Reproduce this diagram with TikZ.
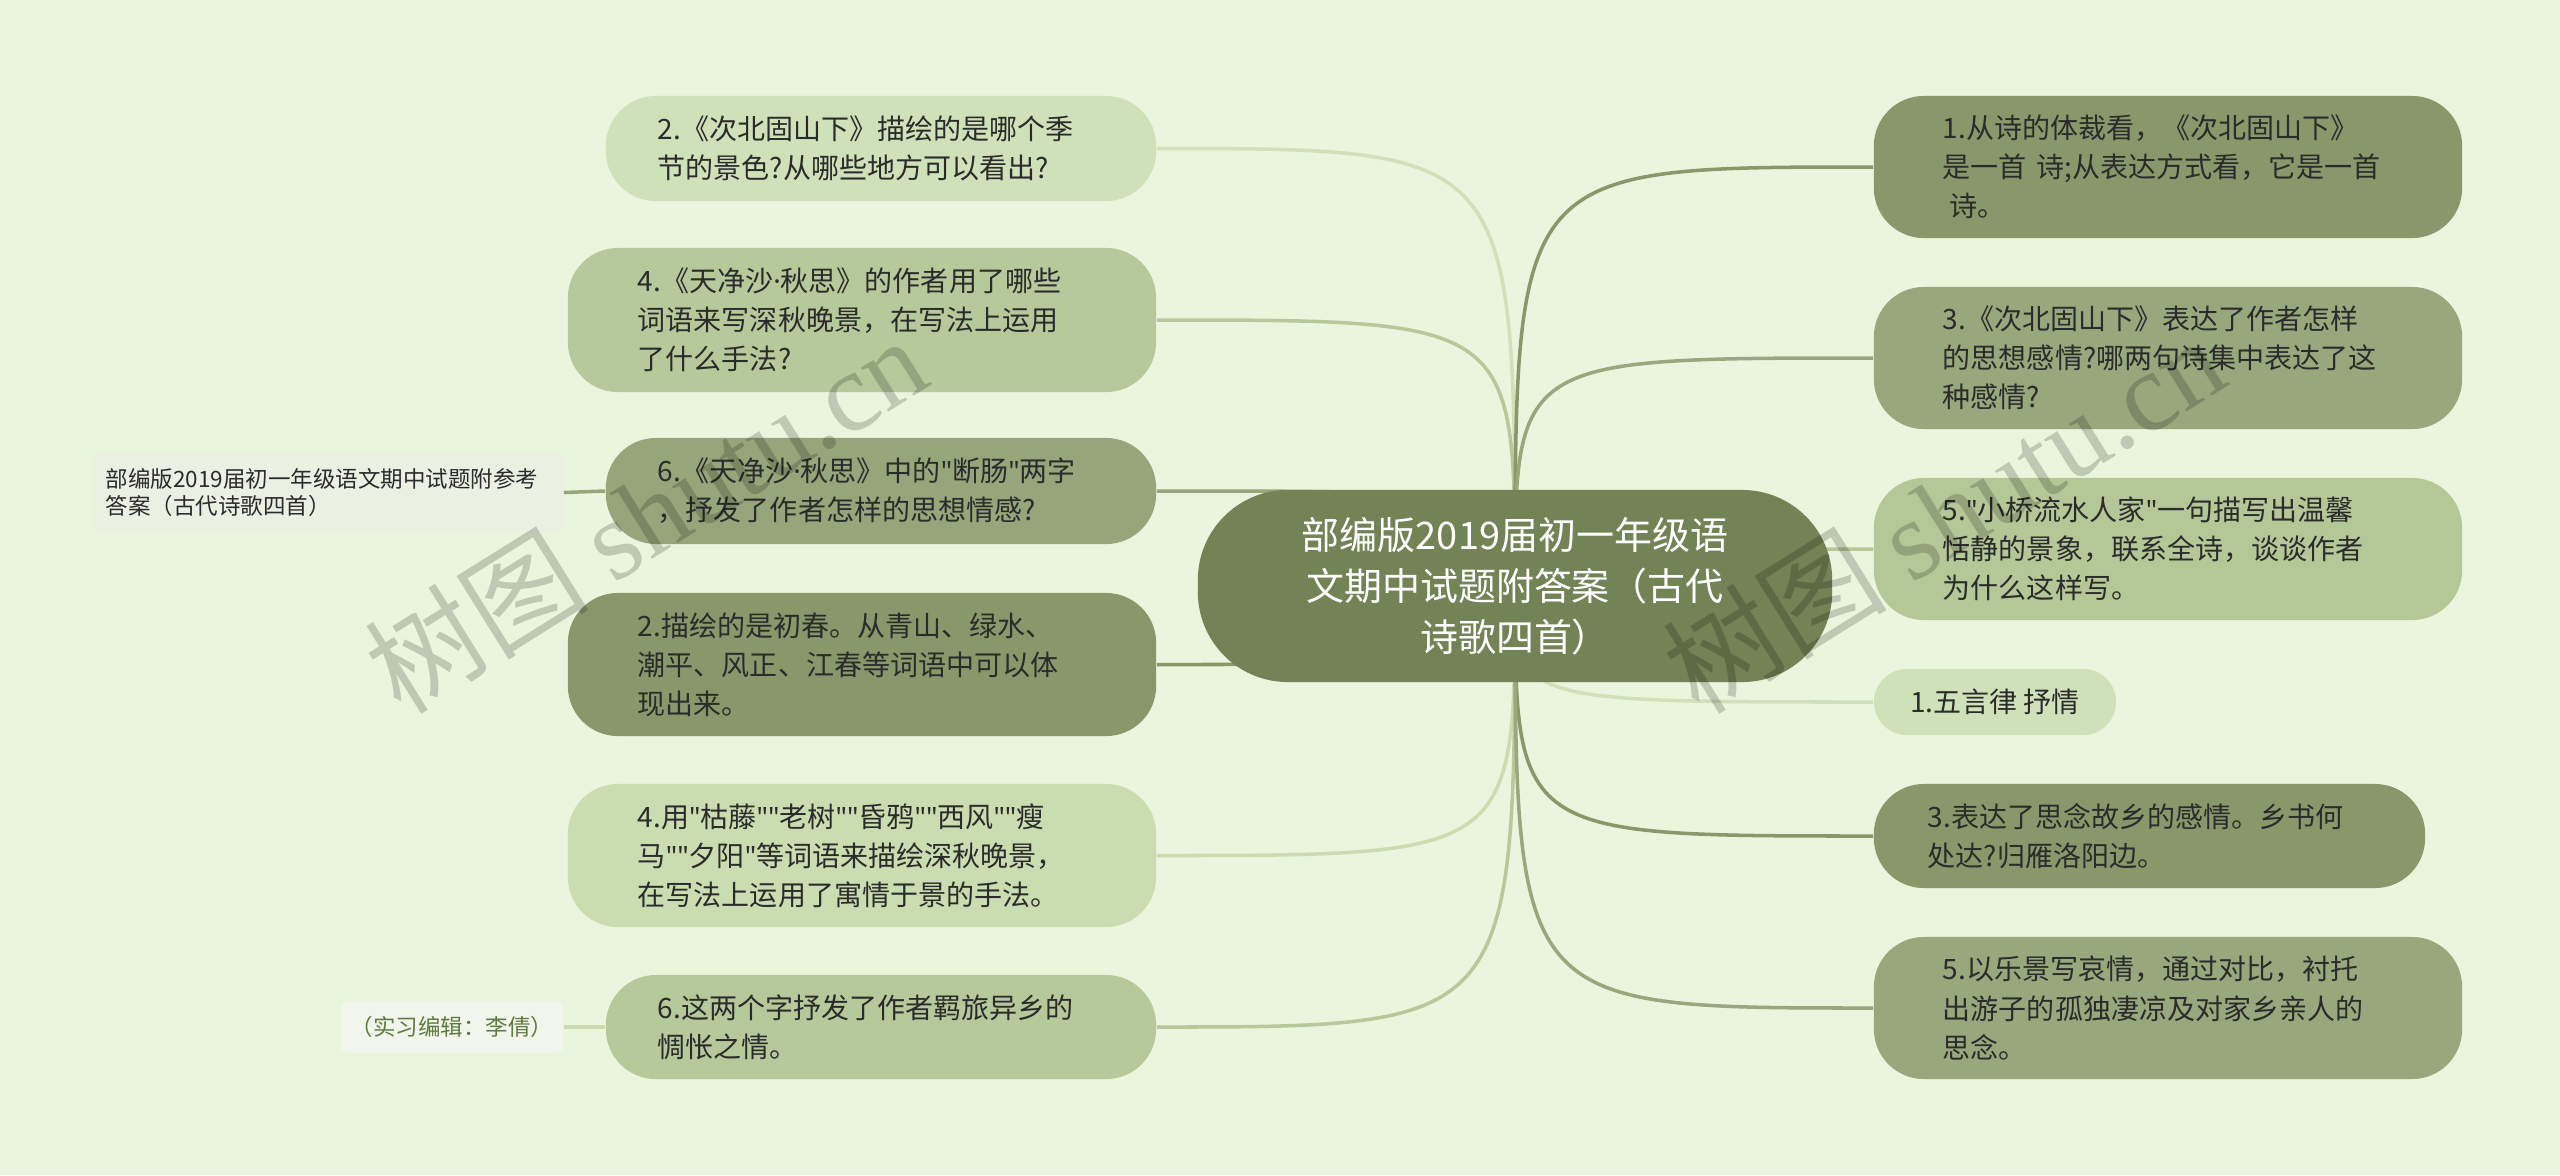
\documentclass[tikz,border=0pt]{standalone}
\usepackage{fontspec}
\setmainfont{Noto Sans CJK SC}[Ligatures=TeXOff]
\newfontfamily\latinf{Noto Sans}[Ligatures=TeXOff]
\newfontfamily\wmserif{Liberation Serif}
\newcommand{\mdot}{{\latinf ·}}
\newcommand{\q}{{\latinf\char"22}}
\usetikzlibrary{backgrounds}
\definecolor{bgc}{HTML}{E9F5DC}
\definecolor{rootc}{HTML}{728355}
\definecolor{cA}{HTML}{CFE1B9}
\definecolor{cB}{HTML}{B5C99A}
\definecolor{cC}{HTML}{94A67A}
\definecolor{cD}{HTML}{88986B}
\definecolor{cE}{HTML}{CADDB1}
\definecolor{cF}{HTML}{97A87D}
\definecolor{cG}{HTML}{B3C797}
\definecolor{txt}{HTML}{2B2B2B}
\definecolor{flc}{HTML}{EBF0E3}
\definecolor{flc2}{HTML}{F1F5EC}
\definecolor{edtxt}{HTML}{5E7B3E}
\tikzset{
  box/.style={rounded corners=0.5cm, inner sep=0pt, align=left, text=txt,
    font=\fontsize{7.97pt}{11.1pt}\selectfont},
  rootbox/.style={rounded corners=0.9cm, inner sep=0pt, align=center, text=white,
    fill=rootc, font=\fontsize{10.8pt}{14.5pt}\selectfont},
  side/.style={rounded corners=0.06cm, inner sep=0pt, align=left, text=txt,
    font=\fontsize{6.4pt}{7.9pt}\selectfont},
  link/.style={line width=1pt},
  wm/.style={text=black, opacity=0.18, rotate=32, font=\fontsize{32pt}{34pt}\selectfont}
}
\begin{document}
\begin{tikzpicture}[x=0.01cm, y=-0.01cm]
\useasboundingbox (0,0) rectangle (2560,1175);

% root
\node[rootbox, minimum width=6.34cm, minimum height=1.92cm] (root) at (1515,586)
  {部编版2019届初一年级语\\文期中试题附答案（古代\\诗歌四首）};

% left column
\node[box, fill=cA, minimum width=5.50cm, minimum height=1.05cm, text width=4.46cm] (L1) at (881,148.5)
  {2.《次北固山下》描绘的是哪个季\\节的景色?从哪些地方可以看出?};
\node[box, fill=cB, minimum width=5.88cm, minimum height=1.44cm, text width=4.48cm] (L2) at (862,320)
  {4.《天净沙\mdot 秋思》的作者用了哪些\\词语来写深秋晚景，在写法上运用\\了什么手法?};
\node[box, fill=cC, minimum width=5.50cm, minimum height=1.06cm, text width=4.46cm] (L3) at (881,491)
  {6.《天净沙\mdot 秋思》中的\q 断肠\q 两字\\，抒发了作者怎样的思想情感?};
\node[box, fill=cD, minimum width=5.88cm, minimum height=1.43cm, text width=4.48cm] (L4) at (862,664.5)
  {2.描绘的是初春。从青山、绿水、\\潮平、风正、江春等词语中可以体\\现出来。};
\node[box, fill=cE, minimum width=5.88cm, minimum height=1.43cm, text width=4.48cm] (L5) at (862,855.5)
  {4.用\q 枯藤\q\q 老树\q\q 昏鸦\q\q 西风\q\q 瘦\\马\q\q 夕阳\q 等词语来描绘深秋晚景，\\在写法上运用了寓情于景的手法。};
\node[box, fill=cB, minimum width=5.50cm, minimum height=1.04cm, text width=4.46cm] (L6) at (881,1027)
  {6.这两个字抒发了作者羁旅异乡的\\惆怅之情。};

% far left
\node[side, fill=flc, minimum width=4.70cm, minimum height=0.77cm, text width=4.44cm] (FL1) at (328,492.5)
  {部编版2019届初一年级语文期中试题附参考\\答案（古代诗歌四首）};
\node[side, fill=flc2, text=edtxt, align=center, minimum width=2.22cm, minimum height=0.52cm] (FL2) at (452,1027)
  {（实习编辑：李倩）};

% right column
\node[box, fill=cD, minimum width=5.88cm, minimum height=1.42cm, text width=4.50cm] (R1) at (2168,167)
  {1.从诗的体裁看，《次北固山下》\\是一首~诗;从表达方式看，它是一首\\\hspace*{0.25em}诗。};
\node[box, fill=cF, minimum width=5.88cm, minimum height=1.42cm, text width=4.50cm] (R2) at (2168,358)
  {3.《次北固山下》表达了作者怎样\\的思想感情?哪两句诗集中表达了这\\种感情?};
\node[box, fill=cG, minimum width=5.88cm, minimum height=1.42cm, text width=4.50cm] (R3) at (2168,549)
  {5.\q 小桥流水人家\q 一句描写出温馨\\恬静的景象，联系全诗，谈谈作者\\为什么这样写。};
\node[box, fill=cA, rounded corners=0.33cm, align=center, minimum width=2.42cm, minimum height=0.66cm] (R4) at (1995,702)
  {1.五言律 抒情};
\node[box, fill=cD, minimum width=5.51cm, minimum height=1.04cm, text width=4.43cm] (R5) at (2149.5,836)
  {3.表达了思念故乡的感情。乡书何\\处达?归雁洛阳边。};
\node[box, fill=cF, minimum width=5.88cm, minimum height=1.42cm, text width=4.50cm] (R6) at (2168,1008)
  {5.以乐景写哀情，通过对比，衬托\\出游子的孤独凄凉及对家乡亲人的\\思念。};

\begin{scope}[on background layer]
  \fill[bgc] (0,0) rectangle (2560,1175);
  \draw[link, cA] (root.center) .. controls (root.center |- L1.east) .. (L1.east);
  \draw[link, cB] (root.center) .. controls (root.center |- L2.east) .. (L2.east);
  \draw[link, cC] (root.center) .. controls (root.center |- L3.east) .. (L3.east);
  \draw[link, cD] (root.center) .. controls (root.center |- L4.east) .. (L4.east);
  \draw[link, cE] (root.center) .. controls (root.center |- L5.east) .. (L5.east);
  \draw[link, cB] (root.center) .. controls (root.center |- L6.east) .. (L6.east);
  \draw[link, cD] (root.center) .. controls (root.center |- R1.west) .. (R1.west);
  \draw[link, cF] (root.center) .. controls (root.center |- R2.west) .. (R2.west);
  \draw[link, cG] (root.center) .. controls (root.center |- R3.west) .. (R3.west);
  \draw[link, cA] (root.center) .. controls (root.center |- R4.west) .. (R4.west);
  \draw[link, cD] (root.center) .. controls (root.center |- R5.west) .. (R5.west);
  \draw[link, cF] (root.center) .. controls (root.center |- R6.west) .. (R6.west);
  \draw[link, cC] (L3.west) -- (FL1.east);
  \draw[link, cE] (L6.west) -- (FL2.east);
\end{scope}

% watermarks
\node[wm] (wm1) at (645,514) {树图 {\wmserif shutu.cn}};
\node[wm] (wm2) at (1943,514) {树图 {\wmserif shutu.cn}};
\end{tikzpicture}
\end{document}
